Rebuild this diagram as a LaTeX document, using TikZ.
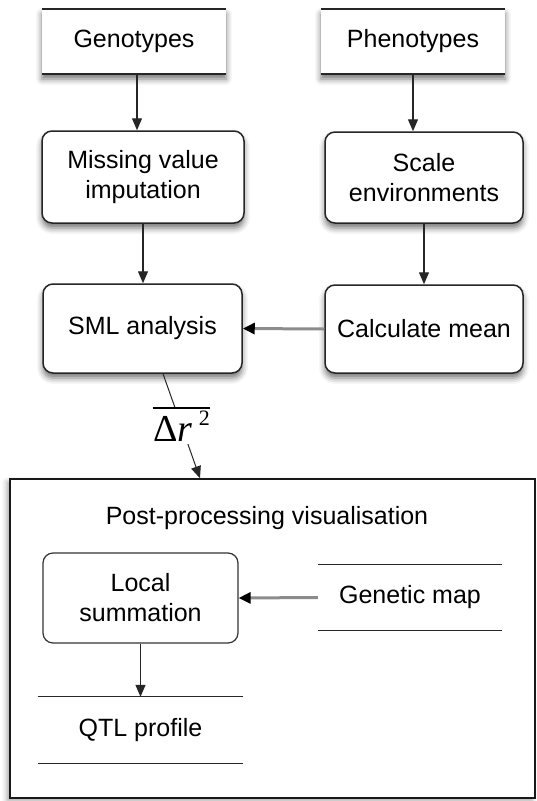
\documentclass[tikz,border=0pt]{standalone}
\usepackage{fontspec}
\setmainfont{Liberation Sans}
\newfontfamily\serifdr{Liberation Serif}
\usetikzlibrary{arrows.meta,shadows,shadows.blur,calc}
\begin{document}
\begin{tikzpicture}[x=1pt,y=-1pt,
  txt/.style={font=\fontsize{25}{30}\selectfont, align=center, text=black},
  procbox/.style={txt, draw=black!85, line width=1.5pt, rounded corners=10pt, fill=white, inner sep=0pt,
     blur shadow={shadow xshift=0pt, shadow yshift=-5pt, shadow blur radius=6pt, shadow opacity=55}},
  plainbox/.style={txt, draw=black!80, line width=1.2pt, rounded corners=10pt, fill=white, inner sep=0pt},
  databox/.style={txt, fill=white, inner sep=0pt,
     blur shadow={shadow xshift=0pt, shadow yshift=-5pt, shadow blur radius=6pt, shadow opacity=55}},
  dataplain/.style={txt, inner sep=0pt},
  dline/.style={line width=2pt, black!85},
  arr/.style={line width=1.2pt, black!85, -{Triangle[width=10pt,length=12pt]}},
  garr/.style={line width=3pt, black!45, -{Triangle[width=11pt,length=12pt,fill=black,color=black]}}
]
\useasboundingbox (0,0) rectangle (536,801);

% outer post-processing box
\node[draw=black!90, line width=1.5pt, fill=white, minimum width=525pt, minimum height=319pt, inner sep=0pt,
  blur shadow={shadow xshift=-3pt, shadow yshift=-3pt, shadow blur radius=5pt, shadow opacity=35}]
  (post) at (272.5,638.5) {};
\node[txt] (posttitle) at (267,518) {Post-processing visualisation};

% top data nodes
\node[databox, minimum width=184pt, minimum height=65pt] (gen) at (134,41.5) {Genotypes};
\draw[dline] (gen.north west) -- (gen.north east);
\draw[dline] (gen.south west) -- (gen.south east);
\node[databox, minimum width=184pt, minimum height=65pt] (phe) at (413,41.5) {Phenotypes};
\draw[dline] (phe.north west) -- (phe.north east);
\draw[dline] (phe.south west) -- (phe.south east);

% process boxes
\node[procbox, minimum width=202pt, minimum height=92pt] (miss) at (143,177) {Missing value\\imputation};
\node[procbox, minimum width=198pt, minimum height=91pt] (scale) at (424,177.5) {Scale\\environments};
\node[procbox, minimum width=199pt, minimum height=89pt] (sml) at (142.5,328.5) {SML analysis};
\node[procbox, minimum width=198pt, minimum height=88pt] (calc) at (424,329) {Calculate mean};

% inner nodes
\node[plainbox, minimum width=195pt, minimum height=90pt] (local) at (140.5,598) {Local\\summation};
\node[dataplain, minimum width=184pt, minimum height=65pt] (gmap) at (410,597.5) {Genetic map};
\draw[line width=1.3pt, black!85] (gmap.north west) -- (gmap.north east);
\draw[line width=1.3pt, black!85] (gmap.south west) -- (gmap.south east);
\node[dataplain, minimum width=205pt, minimum height=66pt] (qtl) at (140.5,730) {QTL profile};
\draw[line width=1.3pt, black!85] (qtl.north west) -- (qtl.north east);
\draw[line width=1.3pt, black!85] (qtl.south west) -- (qtl.south east);

% connectors
\draw[arr] ([xshift=3pt]gen.south) -- ([xshift=3pt]gen.south |- miss.north);
\draw[arr] (phe.south) -- (phe.south |- scale.north);
\draw[arr] (miss.south) -- (miss.south |- sml.north);
\draw[arr] (scale.south) -- (scale.south |- calc.north);
\draw[garr] (calc.west) -- (sml.east);
\draw[arr, line width=1pt] ([xshift=20.5pt]sml.south) --
  node[fill=white, inner xsep=0pt, inner ysep=3pt, text=black,
       font=\serifdr\fontsize{38}{40}\selectfont] (dr)
       {Δ\textit{r}\,\raisebox{16pt}{\fontsize{22}{22}\selectfont 2}}
  ([xshift=-72.5pt]post.north);
\draw[line width=2.5pt, black] ([yshift=-1pt]dr.north west) -- ([yshift=-1pt]dr.north east);
\draw[garr] (gmap.west) -- (local.east);
\draw[arr] (local.south) -- (qtl.north);
\end{tikzpicture}
\end{document}
